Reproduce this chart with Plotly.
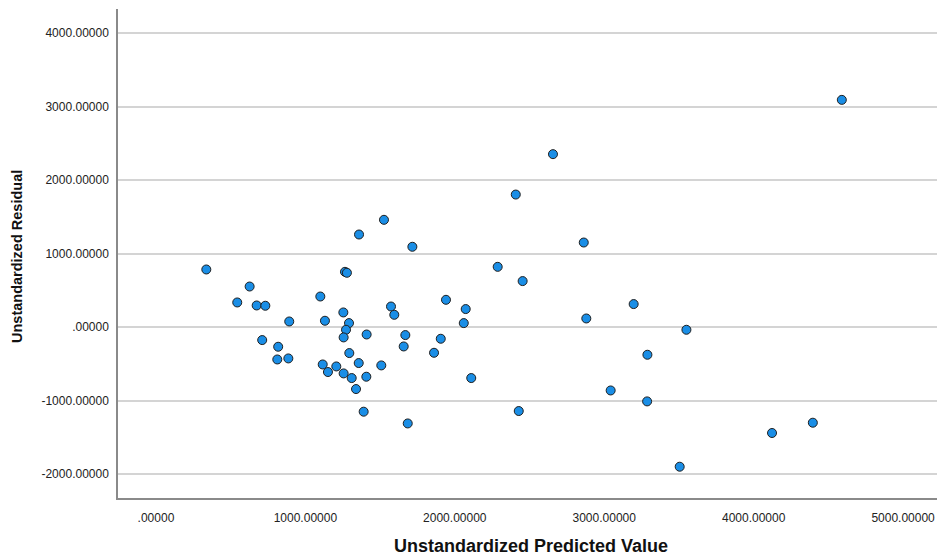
import plotly.graph_objects as go

predicted = [337, 627, 544, 674, 732, 892, 711, 818, 812, 886,
             1100, 1131, 1265, 1278, 1254, 1292, 1272, 1256, 1410, 1294,
             1357, 1116, 1151, 1207, 1256, 1310, 1408, 1339, 1390, 1685,
             1508, 1359, 1526, 1716, 1573, 1595, 1669, 1658, 1861, 1906,
             1941, 2073, 2060, 2110, 2287, 2408, 2863, 2454, 2428, 3197,
             2880, 3550, 3289, 3043, 3287, 3505, 4123, 4396, 2657, 4590]
residual = [784, 552, 335, 294, 290, 76, -177, -268, -441, -427,
            416, 86, 752, 739, 199, 54, -37, -141, -101, -354,
            -490, -509, -612, -536, -631, -694, -676, -844, -1152, -1312,
            -522, 1260, 1460, 1093, 280, 167, -109, -264, -350, -159,
            371, 245, 54, -694, 820, 1804, 1151, 626, -1143, 313,
            117, -37, -377, -863, -1012, -1901, -1442, -1302, 2354, 3093]

x_tickvals = [0, 1000, 2000, 3000, 4000, 5000]
x_ticktext = [".00000", "1000.00000", "2000.00000", "3000.00000", "4000.00000", "5000.00000"]
y_tickvals = [-2000, -1000, 0, 1000, 2000, 3000, 4000]
y_ticktext = ["-2000.00000", "-1000.00000", ".00000", "1000.00000", "2000.00000", "3000.00000", "4000.00000"]

fig = go.Figure()
fig.add_trace(go.Scatter(
    x=predicted, y=residual, mode="markers",
    marker=dict(size=9, color="#1a8ee6", line=dict(color="#1f1f1f", width=1)),
    showlegend=False, hoverinfo="x+y"))

font = "Liberation Sans, Arial, sans-serif"
fig.update_layout(
    width=937, height=557,
    margin=dict(l=118, r=0, t=9, b=59, autoexpand=False),
    paper_bgcolor="white", plot_bgcolor="white",
    font=dict(family=font, size=12, color="#1a1a1a"),
    xaxis=dict(range=[-254, 5227], tickvals=x_tickvals, ticktext=x_ticktext, automargin=False,
               showgrid=False, zeroline=False, showline=True, linecolor="#8a8a8a", linewidth=1.5,
               ticks="outside", ticklen=8, tickcolor="rgba(0,0,0,0)",
               tickfont=dict(size=12, color="#222")),
    yaxis=dict(range=[-2327, 4330], tickvals=y_tickvals, ticktext=y_ticktext, automargin=False,
               showgrid=True, gridcolor="#d4d4d4", gridwidth=1.5, zeroline=False,
               showline=True, linecolor="#8a8a8a", linewidth=1.5,
               ticks="outside", ticklen=5, tickcolor="rgba(0,0,0,0)",
               tickfont=dict(size=12, color="#222")),
)
fig.add_annotation(text="<b>Unstandardized Predicted Value</b>", xref="paper", yref="paper",
                   x=(531 - 118) / 819, y=-(546 - 498) / 489, showarrow=False,
                   xanchor="center", yanchor="middle", font=dict(size=18, family=font, color="#111"))
fig.add_annotation(text="<b>Unstandardized Residual</b>", xref="paper", yref="paper",
                   x=-(118 - 17) / 819, y=(498 - 257) / 489, showarrow=False, textangle=-90,
                   xanchor="center", yanchor="middle", font=dict(size=14.5, family=font, color="#111"))

fig.write_html("out.html", config={"displayModeBar": False},
               post_script="document.body.style.margin='0px';document.body.style.overflow='hidden';")
